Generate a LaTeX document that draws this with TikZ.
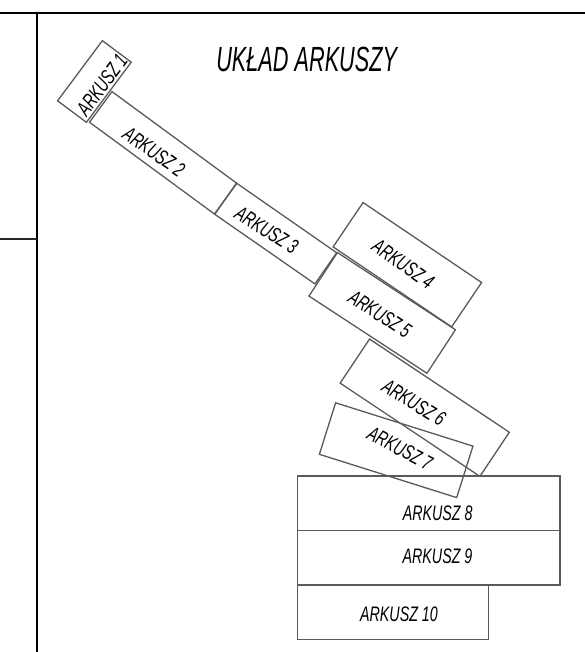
\documentclass[tikz,border=0pt]{standalone}
\usepackage{fontspec}
\newfontfamily\arkfont{Liberation Sans}[FakeStretch=0.68]
\newfontfamily\ttlfont{Liberation Sans}[FakeStretch=0.62]
\definecolor{sheetgray}{RGB}{90,90,90}
\begin{document}
\begin{tikzpicture}[x=1pt,y=-1pt,
  sheet/.style={draw=sheetgray,line width=1.3pt,inner sep=0pt,outer sep=0pt},
  lab/.style={inner sep=0pt,font={\arkfont\itshape\fontsize{21pt}{21pt}\selectfont}},
  ttl/.style={inner sep=0pt,font={\ttlfont\itshape\fontsize{35pt}{35pt}\selectfont}},
  frame/.style={line width=2pt,black},
  framegray/.style={line width=2pt,black!85}]
\useasboundingbox (0,0) rectangle (585,652);
% frame
\coordinate (ftl) at (0,13.3);
\coordinate (ftr) at (585,13.3);
\coordinate (fvt) at (36.7,13.3);
\coordinate (fvb) at (36.7,652);
\coordinate (fhl) at (0,239.3);
\coordinate (fhr) at (36.7,239.3);
\draw[frame] (ftl) -- (ftr);
\draw[frame] (fvt) -- (fvb);
\draw[framegray] (fhl) -- (fhr);
% title
\node[ttl] (title) at (306.7,59.2) {UKŁAD ARKUSZY};
% sheets
\node[sheet,minimum width=75pt,minimum height=36pt,rotate=53.3] (s1) at (94.4,81.5) {};
\node[sheet,minimum width=155pt,minimum height=38pt,rotate=-36.3] (s2) at (163.2,152.8) {};
\node[sheet,minimum width=122pt,minimum height=38pt,rotate=-34.8] (s3) at (275.7,233.5) {};
\node[sheet,minimum width=143pt,minimum height=53.5pt,rotate=-34] (s4) at (407.35,264.7) {};
\node[sheet,minimum width=141pt,minimum height=52pt,rotate=-33.2] (s5) at (382.2,312.9) {};
\node[sheet,minimum width=168pt,minimum height=53pt,rotate=-33.7] (s6) at (424.75,407.7) {};
\node[sheet,minimum width=144pt,minimum height=54pt,rotate=-17.5] (s7) at (396.15,450.2) {};
\node[sheet,minimum width=262.7pt,minimum height=54.7pt] (s8) at (428.65,503.35) {};
\node[sheet,minimum width=262.7pt,minimum height=54.3pt] (s9) at (428.65,557.85) {};
\node[sheet,minimum width=191pt,minimum height=54.3pt] (s10) at (392.8,612.15) {};
% labels
\node[lab,rotate=53.3] (l1) at (102,85) {ARKUSZ 1};
\node[lab,rotate=-35] (l2) at (154,151.7) {ARKUSZ 2};
\node[lab,rotate=-32] (l3) at (266.7,230) {ARKUSZ 3};
\node[lab,rotate=-35] (l4) at (403.3,264) {ARKUSZ 4};
\node[lab,rotate=-33] (l5) at (380,314) {ARKUSZ 5};
\node[lab,rotate=-32] (l6) at (414,402.5) {ARKUSZ 6};
\node[lab,rotate=-28] (l7) at (400,448.3) {ARKUSZ 7};
\node[lab] (l8) at (437.7,513.3) {ARKUSZ 8};
\node[lab] (l9) at (437.5,556.7) {ARKUSZ 9};
\node[lab] (l10) at (399,614) {ARKUSZ 10};
\end{tikzpicture}
\end{document}
